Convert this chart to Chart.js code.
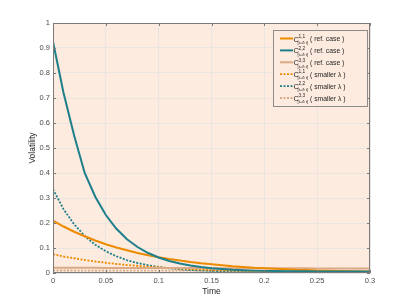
<!DOCTYPE html>
<html>
<head>
<meta charset="utf-8">
<script src="https://cdn.jsdelivr.net/npm/chart.js@4.4.1/dist/chart.umd.min.js"></script>
<style>
html,body{margin:0;padding:0;background:#fff;}
#c{display:block;}
</style>
</head>
<body>
<canvas id="c" width="409" height="307"></canvas>
<script>
// ---- data ----
const times = [0,0.01,0.02,0.03,0.04,0.05,0.06,0.07,0.08,0.09,0.10,0.11,0.12,0.13,0.14,0.15,0.16,0.17,0.18,0.19,0.20,0.21,0.22,0.23,0.24,0.25,0.26,0.27,0.28,0.29,0.30];

const c11Ref = [0.210,0.186,0.165,0.147,0.130,0.115,0.102,0.091,0.080,0.071,0.063,0.056,0.050,0.044,0.039,0.035,0.031,0.027,0.024,0.021,0.019,0.017,0.015,0.013,0.012,0.010,0.009,0.008,0.007,0.0065,0.006];
const c22Ref = [0.925,0.720,0.550,0.400,0.305,0.232,0.177,0.135,0.104,0.080,0.062,0.048,0.038,0.030,0.024,0.019,0.016,0.013,0.011,0.0095,0.0085,0.008,0.0075,0.007,0.0068,0.0065,0.0063,0.006,0.0058,0.0056,0.0055];
const c33Ref = [0.021,0.021,0.0208,0.0207,0.0206,0.0205,0.0204,0.0203,0.0202,0.0201,0.020,0.0199,0.0198,0.0197,0.0196,0.0195,0.0194,0.0193,0.0192,0.0191,0.019,0.0189,0.0188,0.0187,0.0186,0.0185,0.0184,0.0183,0.0182,0.0181,0.018];
const c11Small = [0.075,0.066,0.059,0.052,0.046,0.041,0.036,0.032,0.029,0.025,0.023,0.020,0.018,0.016,0.014,0.012,0.011,0.0097,0.0086,0.0077,0.0068,0.0061,0.0055,0.0049,0.0044,0.004,0.0036,0.0032,0.0029,0.0026,0.0024];
const c22Small = [0.335,0.255,0.195,0.148,0.113,0.087,0.067,0.051,0.040,0.031,0.024,0.019,0.015,0.012,0.010,0.0085,0.0075,0.0068,0.0062,0.0058,0.0055,0.0053,0.0051,0.005,0.0049,0.0048,0.0047,0.0046,0.0045,0.0045,0.0044];
const c33Small = [0.010,0.010,0.0099,0.0099,0.0098,0.0098,0.0097,0.0097,0.0096,0.0096,0.0095,0.0095,0.0094,0.0094,0.0093,0.0093,0.0092,0.0092,0.0091,0.0091,0.009,0.009,0.0089,0.0089,0.0088,0.0088,0.0087,0.0087,0.0086,0.0086,0.0085];

const xTickLabels = ['0','0.05','0.1','0.15','0.2','0.25','0.3'];
const yTickLabels = ['0','0.1','0.2','0.3','0.4','0.5','0.6','0.7','0.8','0.9','1'];

const legendSup = ['1,1','2,2','3,3','1,1','2,2','3,3'];
const legendSub = '[t+\u03B4 t]';
const legendNote = ['( ref. case )','( ref. case )','( ref. case )','( smaller \u03BB )','( smaller \u03BB )','( smaller \u03BB )'];

// ---- styles ----
const ORANGE = 'rgb(237,139,0)';
const TEAL = 'rgb(30,127,138)';
const TAN = 'rgb(218,170,134)';
const BG = 'rgb(252,235,222)';
const GRID = 'rgba(232,228,224,0.9)';
const FONT = "'Liberation Sans', Arial, Helvetica, sans-serif";

function pts(v){ return times.map((t,i)=>({x:t,y:v[i]})); }

const series = [
  {v:c11Ref, color:ORANGE, dash:[]},
  {v:c22Ref, color:TEAL, dash:[]},
  {v:c33Ref, color:TAN, dash:[]},
  {v:c11Small, color:ORANGE, dash:[2,1.5]},
  {v:c22Small, color:TEAL, dash:[2,1.5]},
  {v:c33Small, color:TAN, dash:[2,1.5]}
];

const datasets = series.map((s,i)=>({
  label: 'C' + legendSup[i] + ' ' + legendSub + ' ' + legendNote[i],
  data: pts(s.v),
  borderColor: s.color,
  backgroundColor: s.color,
  borderWidth: s.dash.length ? 1.8 : 2,
  borderDash: s.dash,
  pointRadius: 0,
  tension: 0,
  fill: false,
  order: [3,2,4,5,6,7][i]
}));

const framePlugin = {
  id:'frame',
  beforeDraw(chart){
    const {ctx, chartArea:a} = chart;
    ctx.save();
    ctx.fillStyle = BG;
    ctx.fillRect(a.left, a.top, a.right-a.left, a.bottom-a.top);
    ctx.restore();
  },
  afterDatasetsDraw(chart){
    const {ctx, chartArea:a, scales} = chart;
    ctx.save();
    ctx.strokeStyle = '#7a7a7a';
    ctx.lineWidth = 1;
    ctx.strokeRect(a.left+0.5, a.top+0.5, a.right-a.left-1, a.bottom-a.top-1);
    // inner ticks
    ctx.beginPath();
    scales.x.ticks.forEach(t=>{
      const px = Math.round(scales.x.getPixelForValue(t.value))+0.5;
      ctx.moveTo(px, a.bottom); ctx.lineTo(px, a.bottom-3);
      ctx.moveTo(px, a.top); ctx.lineTo(px, a.top+3);
    });
    scales.y.ticks.forEach(t=>{
      const py = Math.round(scales.y.getPixelForValue(t.value))+0.5;
      ctx.moveTo(a.left, py); ctx.lineTo(a.left+3, py);
      ctx.moveTo(a.right, py); ctx.lineTo(a.right-3, py);
    });
    ctx.stroke();

    // legend
    const lx = 273, ly = 30, lw = 95, lh = 77;
    ctx.fillStyle = BG;
    ctx.fillRect(lx, ly, lw, lh);
    ctx.strokeStyle = '#8c8c8c';
    ctx.strokeRect(lx+0.5, ly+0.5, lw-1, lh-1);
    chart.data.datasets.forEach((ds,i)=>{
      const cy = 38.5 + i*11.9;
      ctx.strokeStyle = ds.borderColor;
      ctx.lineWidth = ds.borderWidth;
      ctx.setLineDash(ds.borderDash);
      ctx.beginPath();
      ctx.moveTo(280, cy); ctx.lineTo(293, cy);
      ctx.stroke();
      ctx.setLineDash([]);
      ctx.fillStyle = '#262626';
      ctx.textBaseline = 'alphabetic';
      ctx.textAlign = 'left';
      ctx.font = '7.5px ' + FONT;
      ctx.fillText('C', 293.5, cy+3);
      ctx.font = '4.8px ' + FONT;
      ctx.fillText(legendSup[i], 298.5, cy-0.8);
      ctx.font = '4.2px ' + FONT;
      ctx.fillText(legendSub, 297.5, cy+5.2);
      ctx.font = '6.8px ' + FONT;
      ctx.fillText(legendNote[i], 310, cy+2.5);
    });
    ctx.restore();
  }
};

new Chart(document.getElementById('c'), {
  type:'line',
  data:{datasets},
  options:{
    responsive:false,
    animation:false,
    devicePixelRatio:1,
    layout:{padding:{left:28,right:39,top:23,bottom:10}},
    plugins:{legend:{display:false}, tooltip:{enabled:false}},
    scales:{
      x:{
        type:'linear', min:0, max:0.3,
        grid:{color:GRID, drawTicks:false, lineWidth:1},
        border:{display:false},
        ticks:{stepSize:0.05, autoSkip:false, maxRotation:0, padding:3, color:'#4d4d4d',
          font:{family:FONT, size:7.5},
          callback:(v,i)=>xTickLabels[i]},
        title:{display:true, text:'Time', color:'#262626', font:{family:FONT, size:8.5}, padding:0},
        afterFit(s){ s.height = 24; }
      },
      y:{
        type:'linear', min:0, max:1,
        grid:{color:GRID, drawTicks:false, lineWidth:1},
        border:{display:false},
        ticks:{stepSize:0.1, autoSkip:false, padding:3, color:'#4d4d4d',
          font:{family:FONT, size:7.5},
          callback:(v,i)=>yTickLabels[i]},
        title:{display:true, text:'Volatility', color:'#262626', font:{family:FONT, size:8.5}, padding:0},
        afterFit(s){ s.width = 25; }
      }
    }
  },
  plugins:[framePlugin]
});
</script>
</body>
</html>
